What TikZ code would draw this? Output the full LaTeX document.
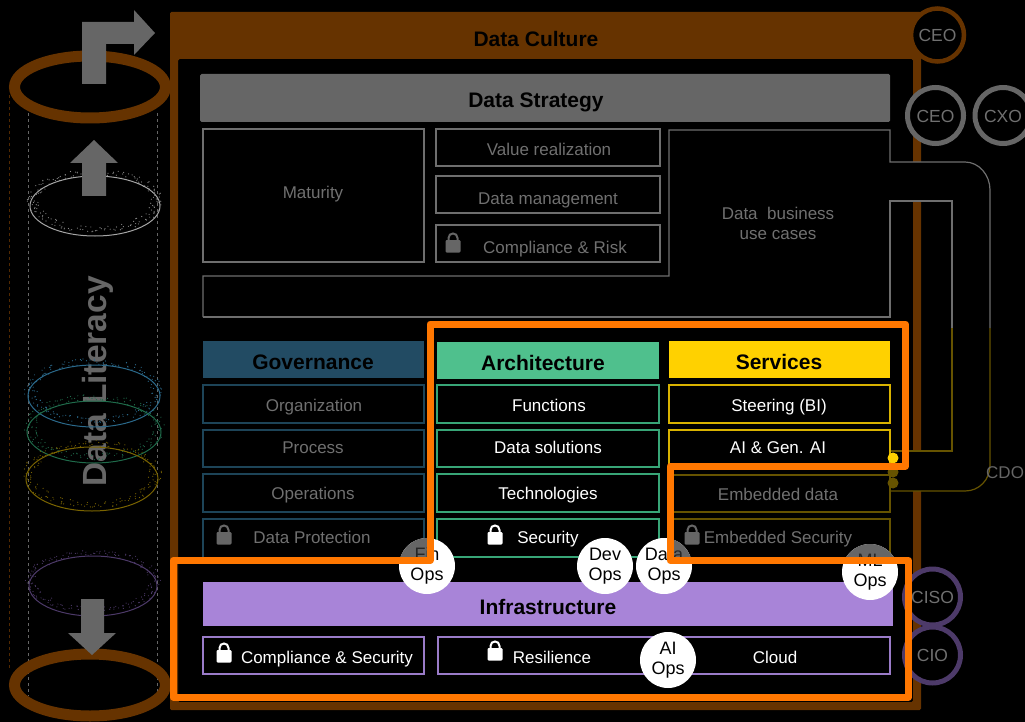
\documentclass[tikz,border=0pt]{standalone}
\usepackage{fontspec}
\setmainfont{Liberation Sans}
\definecolor{brownc}{HTML}{663300}
\definecolor{dimg}{HTML}{666666}
\definecolor{txtg}{HTML}{707070}
\definecolor{linegr}{HTML}{6E6E6E}
\definecolor{orangec}{HTML}{FF7700}
\definecolor{govf}{HTML}{224B63}
\definecolor{govl}{HTML}{1D4458}
\definecolor{archf}{HTML}{4FC08D}
\definecolor{archl}{HTML}{38A577}
\definecolor{servf}{HTML}{FFD100}
\definecolor{dimy}{HTML}{665300}
\definecolor{inff}{HTML}{A884D8}
\definecolor{infl}{HTML}{9A7BC8}
\definecolor{dimp}{HTML}{4D3A69}
\definecolor{ringb}{HTML}{2B6A8C}
\definecolor{ringg}{HTML}{1F6B4A}
\definecolor{ringy}{HTML}{7A6400}
\tikzset{
  x=1pt,y=-1pt,
  lab/.style={inner sep=0pt,font=\fontsize{17}{20}\selectfont},
  oneline/.style={text height=13.6pt,text depth=0pt},
  dimlab/.style={lab,oneline,text=txtg},
  brightlab/.style={lab,oneline,text=white},
  headlab/.style={inner sep=0pt,text height=16.8pt,text depth=0pt,font=\fontsize{21}{24}\selectfont\bfseries,text=black},
  gbox/.style={draw=linegr,line width=1.2pt},
  govbox/.style={draw=govl,line width=1.2pt},
  archbox/.style={draw=archl,line width=1.3pt},
  servbox/.style={draw=servf!85!black,line width=1.3pt},
  dimybox/.style={draw=dimy,line width=1.2pt},
  infbox/.style={draw=infl,line width=1.3pt},
  roleg/.style={circle,draw=dimg,fill=black,line width=5pt,minimum size=56pt,inner sep=0pt,oneline,text=txtg,font=\fontsize{17.5}{20}\selectfont},
  opscirc/.style={circle,fill=white,minimum size=56pt,inner sep=0pt,align=center,text=black,font=\fontsize{18}{20}\selectfont},
  opsdim/.style={circle,fill=dimg,minimum size=56pt,inner sep=0pt,align=center,text=black!85,font=\fontsize{18}{20}\selectfont},
  dashg/.style={dash pattern=on 3pt off 3pt,line width=0.6pt},
}
% lock glyph centred on (#1,#2)
\newcommand{\lockat}[3]{%
  \draw[#3,line width=2pt] (#1-4.5,#2-1) -- (#1-4.5,#2-5) .. controls (#1-4.5,#2-11) and (#1+4.5,#2-11) .. (#1+4.5,#2-5) -- (#1+4.5,#2-1);
  \fill[#3,rounded corners=1.2pt] (#1-7.5,#2-3) rectangle (#1+7.5,#2+9.5);
}
\newcommand{\ringdots}[5]{%
  \foreach \i in {1,...,180}{%
    \pgfmathsetmacro{\ang}{\i*2+rnd*3}%
    \pgfmathsetmacro{\fac}{0.86+rnd*0.2}%
    \fill[#5] ({#1+#3*\fac*cos(\ang)},{#2-5+#4*\fac*sin(\ang)}) circle[radius=0.6];
  }%
}
\begin{document}
\begin{tikzpicture}
\pgfmathsetseed{4242}
\fill[black,use as bounding box] (0,0) rectangle (1025,722);

% Data culture frame
\fill[brownc,even odd rule,rounded corners=1.5pt] (170,12) rectangle (921,710) (178,59) rectangle (913,702);
\node[headlab] (culture) at (536,38) {Data Culture};

% left column: cylinder
\draw[brownc!80!black,dashg] (9.5,95) -- (9.5,670);
\draw[dimg,dashg] (28.5,113) -- (28.5,696);
\draw[dimg,dashg] (157.5,113) -- (157.5,696);
\node[rotate=90,inner sep=0pt,font=\fontsize{33.5}{36}\selectfont\bfseries,text=dimg] (literacy) at (98,381.5) {Data Literacy};
\draw[brownc,line width=11pt] (90,87) ellipse[x radius=75.5,y radius=31];
\draw[brownc,line width=11pt] (90,685) ellipse[x radius=75.5,y radius=31];
\ringdots{95}{206}{65}{30}{white!55!black}
\draw[white!65!black,line width=1pt] (95,206) ellipse[x radius=65,y radius=30];
\ringdots{94}{396}{66}{31}{ringb}
\draw[ringb,line width=1pt] (94,396) ellipse[x radius=66,y radius=31];
\ringdots{94}{432}{67}{31}{ringg}
\draw[ringg,line width=1pt] (94,432) ellipse[x radius=67,y radius=31];
\ringdots{92}{479}{66}{32}{ringy}
\draw[ringy,line width=1pt] (92,479) ellipse[x radius=66,y radius=32];
\ringdots{93}{586}{64}{30}{dimp}
\draw[dimp,line width=1pt] (93,586) ellipse[x radius=64,y radius=30];
% arrows
\fill[dimg] (82,84) -- (82,22) -- (134,22) -- (134,10) -- (155,33) -- (134,55) -- (134,44) -- (106,44) -- (106,84) -- cycle;
\fill[dimg] (82,196) -- (82,163) -- (70,163) -- (94,140) -- (118,163) -- (106,163) -- (106,196) -- cycle;
\fill[dimg] (81,599) -- (104,599) -- (104,633) -- (116,633) -- (92,655) -- (68,633) -- (81,633) -- cycle;

% Data strategy
\fill[dimg,rounded corners=1.5pt] (200,74) rectangle (890,122);
\node[headlab] (strategy) at (536,99) {Data Strategy};
\draw[gbox] (203,129) rectangle (424,262);
\node[dimlab] (maturity) at (313,192) {Maturity};
\draw[gbox] (436,129) rectangle (660,166);
\node[dimlab] (value) at (549,149) {Value realization};
\draw[gbox] (436,176) rectangle (660,213);
\node[dimlab] (dman) at (548,198) {Data management};
\draw[gbox] (436,225) rectangle (660,262);
\lockat{453}{243}{dimg}
\node[dimlab] (risk) at (555,247) {Compliance \& Risk};

% use-cases shape (filled black, hides the frame behind its bands)
\fill[black] (890,162) -- (965,162) .. controls (979,162) and (990,175) .. (990,190) -- (990,465) .. controls (990,480) and (979,491) .. (965,491) -- (890,491) -- (890,451) -- (952,451) -- (952,201) -- (890,201) -- cycle;
\draw[linegr,line width=1.2pt] (203,317) -- (203,276) -- (669,276) -- (669,130) -- (890,130) -- (890,162) -- (965,162) .. controls (979,162) and (990,175) .. (990,190) -- (990,328);
\draw[linegr,line width=1.2pt] (203,317) -- (890,317) -- (890,201) -- (952,201) -- (952,328);
\draw[dimy,line width=1.2pt] (990,328) -- (990,465) .. controls (990,480) and (979,491) .. (965,491) -- (890,491);
\draw[dimy,line width=1.2pt] (952,328) -- (952,451) -- (890,451);
\node[lab,text=txtg,align=center] (cases) at (778,223) {Data\ \ business\\use cases};
\node[lab,oneline,text=dimg,anchor=west] (cdo) at (986,472) {CDO};

% Governance
\fill[govf] (203,341) rectangle (424,378);
\node[headlab] (gov) at (313,361) {Governance};
\draw[govbox] (203,385) rectangle (424,423);
\node[dimlab] (org) at (314,405) {Organization};
\draw[govbox] (203,430) rectangle (424,467);
\node[dimlab] (proc) at (313,447) {Process};
\draw[govbox] (203,474) rectangle (424,512);
\node[dimlab] (oper) at (313,493) {Operations};
\draw[govbox] (203,519) rectangle (424,558);
\lockat{224}{535}{dimg}
\node[dimlab] (dprot) at (312,537) {Data Protection};

% Architecture
\fill[archf] (437,342) rectangle (659,379);
\node[headlab] (arch) at (543,362) {Architecture};
\draw[archbox] (437,385) rectangle (659,423);
\node[brightlab] (func) at (549,405) {Functions};
\draw[archbox] (437,430) rectangle (659,467);
\node[brightlab] (dsol) at (548,447) {Data solutions};
\draw[archbox] (437,474) rectangle (659,512);
\node[brightlab] (tech) at (548,493) {Technologies};
\draw[archbox] (437,519) rectangle (659,557);
\lockat{495}{535}{white}
\node[brightlab] (sec) at (548,537) {Security};

% Services
\fill[servf] (669,341) rectangle (890,378);
\node[headlab] (serv) at (779,361) {Services};
\draw[servbox] (669,385) rectangle (890,423);
\node[brightlab] (steer) at (779,405) {Steering (BI)};
\draw[servbox] (669,430) rectangle (890,468);
\node[brightlab] (aigen) at (778,447) {AI \& Gen. AI};
\draw[dimybox] (669,475) rectangle (890,512);
\node[dimlab] (edata) at (778,494) {Embedded data};
\draw[dimybox] (669,519) rectangle (890,558);
\lockat{692}{535}{dimg}
\node[dimlab] (esec) at (778,537) {Embedded Security};
\fill[servf] (893,458) circle[radius=5.5];
\fill[dimy] (893,472) circle[radius=5.5];
\fill[dimy] (893,483) circle[radius=5.5];

% Infrastructure
\fill[inff] (203,582) rectangle (893,626);
\node[headlab] (infra) at (548,606) {Infrastructure};
\draw[infbox] (203,637) rectangle (424,674);
\lockat{224}{653}{white}
\node[brightlab] (cs) at (327,657) {Compliance \& Security};
\draw[infbox] (438,637) rectangle (890,674);
\lockat{495}{651}{white}
\node[brightlab] (resil) at (552,657) {Resilience};
\node[brightlab] (cloud) at (775,657) {Cloud};

% role circles
\node[roleg,draw=brownc,line width=4.5pt,minimum size=53pt] (ceoa) at (937.5,35) {CEO};
\node[roleg] (ceob) at (935.5,115.5) {CEO};
\node[roleg] (cxo) at (1003,115.5) {CXO};
\node[roleg,draw=dimp] (ciso) at (932.5,597) {CISO};
\node[roleg,draw=dimp] (cio) at (932.5,655) {CIO};

% ops circles
\node[opscirc] (fin) at (427,566) {Fin\\Ops};
\node[opscirc] (dev) at (605,566) {Dev\\Ops};
\node[opscirc] (dat) at (664,566) {Data\\Ops};
\node[opscirc] (ml) at (870,572) {ML\\Ops};
\node[opscirc] (ai) at (668,660) {AI\\Ops};
\begin{scope}
  \clip (380,520) rectangle (430,560);
  \node[opsdim] (findim) at (427,566) {Fin\\Ops};
\end{scope}
\begin{scope}
  \clip (670,520) rectangle (720,560);
  \node[opsdim] (datdim) at (664,566) {Data\\Ops};
\end{scope}
\begin{scope}
  \clip (830,520) rectangle (905,560);
  \node[opsdim] (mldim) at (870,572) {ML\\Ops};
\end{scope}

% highlight outline
\draw[orangec,line width=7pt,line join=round] (173,560.5) -- (430,560.5) -- (430,324) -- (905.5,324) -- (905.5,466) -- (670,466) -- (670,560.5) -- (908.5,560.5) -- (908.5,697) -- (173,697) -- cycle;
\end{tikzpicture}
\end{document}
